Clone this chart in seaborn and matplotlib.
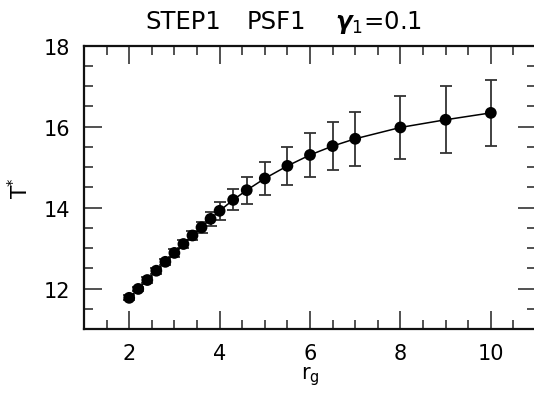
import numpy as np
import pandas as pd
import matplotlib
matplotlib.use("Agg")
import matplotlib.pyplot as plt
import seaborn as sns

r_g = [2.0, 2.2, 2.4, 2.6, 2.8, 3.0, 3.2, 3.4, 3.6, 3.8, 4.0, 4.3, 4.6, 5.0, 5.5, 6.0, 6.5, 7.0, 8.0, 9.0, 10.0]
t_star = [11.77, 11.99, 12.21, 12.44, 12.66, 12.88, 13.10, 13.31, 13.51, 13.72, 13.92,
          14.19, 14.43, 14.72, 15.03, 15.30, 15.52, 15.70, 15.98, 16.17, 16.34]
t_err = [0.06, 0.06, 0.07, 0.07, 0.08, 0.09, 0.10, 0.11, 0.14, 0.18, 0.22,
         0.26, 0.33, 0.40, 0.47, 0.55, 0.60, 0.67, 0.77, 0.83, 0.81]

x_ticks = [2, 4, 6, 8, 10]
y_ticks = [12, 14, 16, 18]
title_parts = ["STEP1", "PSF1", r"$\boldsymbol{\gamma}_{1}$=0.1"]

df = pd.DataFrame({"r_g": r_g, "T": t_star, "err": t_err})

sns.set_style("ticks")
plt.rcParams["font.family"] = ["DejaVu Sans"]
plt.rcParams["text.color"] = "black"
plt.rcParams["axes.labelcolor"] = "black"

fig = plt.figure(figsize=(5.34, 4.06), dpi=100)
ax = fig.add_axes([84 / 534, 76 / 406, 452 / 534, 283.3 / 406])

ax.errorbar(df["r_g"], df["T"], yerr=df["err"], fmt="none", ecolor="#333333",
            elinewidth=1.3, capsize=4.5, capthick=1.3, zorder=2)
sns.lineplot(data=df, x="r_g", y="T", ax=ax, color="black", linewidth=1.1,
             sort=False, zorder=3)
sns.scatterplot(data=df, x="r_g", y="T", ax=ax, color="black", s=72,
                edgecolor="none", zorder=4)

ax.set_xlim(1, 11)
ax.set_ylim(11, 18)
ax.set_xticks(x_ticks)
ax.set_xticklabels([str(v) for v in x_ticks])
ax.set_yticks(y_ticks)
ax.set_yticklabels([str(v) for v in y_ticks])
ax.set_xticks(np.arange(1.5, 11, 0.5), minor=True)
ax.set_yticks(np.arange(11.5, 18, 0.5), minor=True)

ax.tick_params(which="both", direction="in", top=True, right=True,
               color="#222222", labelcolor="black")
ax.tick_params(which="major", length=13, width=1.1, labelsize=15, pad=10)
ax.tick_params(which="minor", length=6.5, width=1.1)
for s in ax.spines.values():
    s.set_linewidth(1.6)
    s.set_color("#111111")

ax.set_xlabel(r"r$_{\rm g}$", fontsize=15, labelpad=1)
ax.set_ylabel(r"T$^{*}$", fontsize=15, labelpad=8)

for txt, cx in zip(title_parts, [183, 276, 378]):
    fig.text(cx / 534, 1 - 22 / 406, txt, ha="center", va="center", fontsize=17.5)

fig.savefig("out.png", dpi=100)
